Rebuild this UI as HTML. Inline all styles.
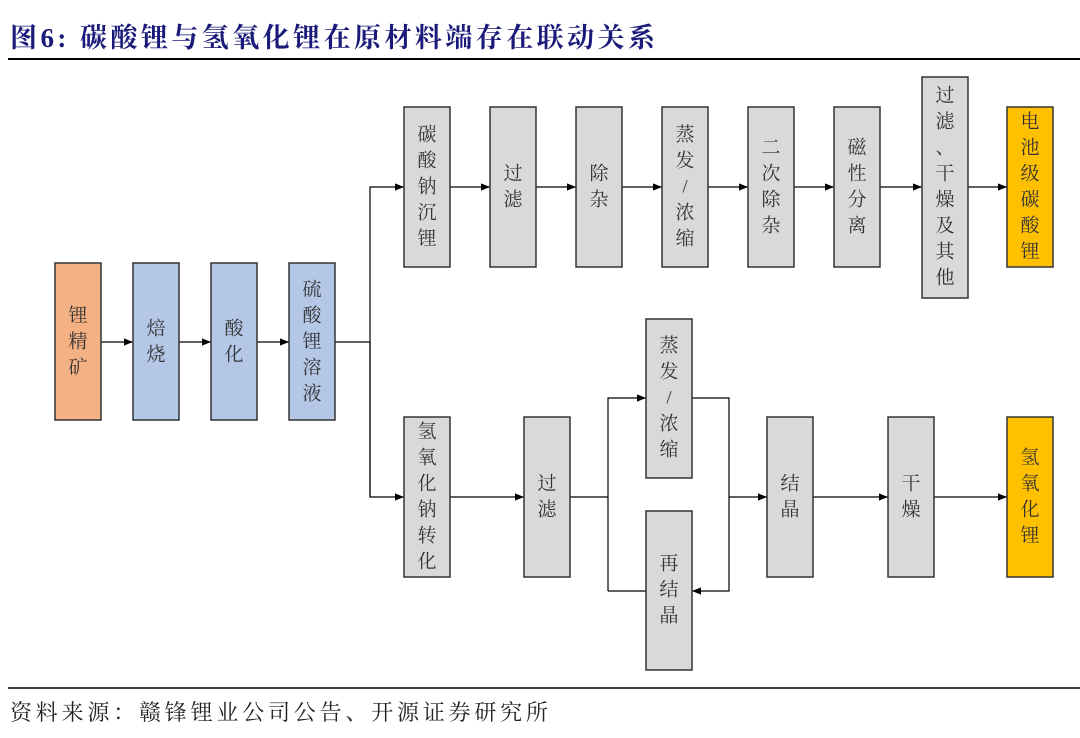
<!DOCTYPE html>
<html><head><meta charset="utf-8"><style>
body{margin:0;background:#fff;width:1080px;height:738px;overflow:hidden}
svg{display:block}
.t{font-family:"Liberation Serif","Noto Serif CJK SC",serif;font-size:19px;fill:#333;text-anchor:middle;dominant-baseline:central}
</style></head><body>
<svg width="1080" height="738" viewBox="0 0 1080 738" xmlns="http://www.w3.org/2000/svg">
<defs><marker id="a" viewBox="0 0 10 10" refX="10" refY="5" markerWidth="9" markerHeight="9" markerUnits="userSpaceOnUse" orient="auto"><path d="M0,1 L10,5 L0,9 z" fill="#000"/></marker></defs>
<text x="10" y="47" textLength="645" lengthAdjust="spacing" font-family="Liberation Serif,'Noto Serif CJK SC',serif" font-size="27" font-weight="bold" fill="#1a1a7a">图6:  碳酸锂与氢氧化锂在原材料端存在联动关系</text>
<line x1="8" y1="59" x2="1080" y2="59" stroke="#000" stroke-width="2"/>
<line x1="8" y1="688" x2="1080" y2="688" stroke="#000" stroke-width="1.5"/>
<text x="10" y="720" textLength="538" lengthAdjust="spacing" font-family="Liberation Serif,'Noto Serif CJK SC',serif" font-size="22" fill="#222">资料来源：赣锋锂业公司公告、开源证券研究所</text>

<g stroke="#000" stroke-width="1.2" fill="none">
<line x1="101" y1="342" x2="133" y2="342" marker-end="url(#a)"/>
<line x1="179" y1="342" x2="211" y2="342" marker-end="url(#a)"/>
<line x1="257" y1="342" x2="289" y2="342" marker-end="url(#a)"/>
<polyline points="335,342 370,342"/>
<polyline points="370,497 370,187 404,187" marker-end="url(#a)"/>
<polyline points="370,342 370,497 404,497" marker-end="url(#a)"/>
<line x1="450" y1="187" x2="490" y2="187" marker-end="url(#a)"/>
<line x1="536" y1="187" x2="576" y2="187" marker-end="url(#a)"/>
<line x1="622" y1="187" x2="662" y2="187" marker-end="url(#a)"/>
<line x1="708" y1="187" x2="748" y2="187" marker-end="url(#a)"/>
<line x1="794" y1="187" x2="834" y2="187" marker-end="url(#a)"/>
<line x1="880" y1="187" x2="922" y2="187" marker-end="url(#a)"/>
<line x1="968" y1="187" x2="1007" y2="187" marker-end="url(#a)"/>
<line x1="450" y1="497" x2="524" y2="497" marker-end="url(#a)"/>
<line x1="570" y1="497" x2="608" y2="497"/>
<polyline points="608,591 608,398 646,398" marker-end="url(#a)"/>
<polyline points="608,591 646,591"/>
<polyline points="692,398 729,398 729,591 692,591" marker-end="url(#a)"/>
<line x1="729" y1="497" x2="767" y2="497" marker-end="url(#a)"/>
<line x1="813" y1="497" x2="888" y2="497" marker-end="url(#a)"/>
<line x1="934" y1="497" x2="1007" y2="497" marker-end="url(#a)"/>
</g>

<g stroke="#333" stroke-width="1.5">
<rect x="55" y="263" width="46" height="157" fill="#F4B183"/>
<rect x="133" y="263" width="46" height="157" fill="#B4C7E7"/>
<rect x="211" y="263" width="46" height="157" fill="#B4C7E7"/>
<rect x="289" y="263" width="46" height="157" fill="#B4C7E7"/>
<rect x="404" y="107" width="46" height="160" fill="#D9D9D9"/>
<rect x="490" y="107" width="46" height="160" fill="#D9D9D9"/>
<rect x="576" y="107" width="46" height="160" fill="#D9D9D9"/>
<rect x="662" y="107" width="46" height="160" fill="#D9D9D9"/>
<rect x="748" y="107" width="46" height="160" fill="#D9D9D9"/>
<rect x="834" y="107" width="46" height="160" fill="#D9D9D9"/>
<rect x="922" y="77" width="46" height="221" fill="#D9D9D9"/>
<rect x="1007" y="107" width="46" height="160" fill="#FFC000"/>
<rect x="404" y="417" width="46" height="160" fill="#D9D9D9"/>
<rect x="524" y="417" width="46" height="160" fill="#D9D9D9"/>
<rect x="646" y="319" width="46" height="159" fill="#D9D9D9"/>
<rect x="646" y="511" width="46" height="159" fill="#D9D9D9"/>
<rect x="767" y="417" width="46" height="160" fill="#D9D9D9"/>
<rect x="888" y="417" width="46" height="160" fill="#D9D9D9"/>
<rect x="1007" y="417" width="46" height="160" fill="#FFC000"/>
</g>

<g class="t">
<text class="t" x="78" y="316">锂</text><text class="t" x="78" y="342">精</text><text class="t" x="78" y="368">矿</text>
<text class="t" x="156" y="329">焙</text><text class="t" x="156" y="355">烧</text>
<text class="t" x="234" y="329">酸</text><text class="t" x="234" y="355">化</text>
<text class="t" x="312" y="290">硫</text><text class="t" x="312" y="316">酸</text><text class="t" x="312" y="342">锂</text><text class="t" x="312" y="368">溶</text><text class="t" x="312" y="394">液</text>

<text class="t" x="427" y="135">碳</text><text class="t" x="427" y="161">酸</text><text class="t" x="427" y="187">钠</text><text class="t" x="427" y="213">沉</text><text class="t" x="427" y="239">锂</text>
<text class="t" x="513" y="174">过</text><text class="t" x="513" y="200">滤</text>
<text class="t" x="599" y="174">除</text><text class="t" x="599" y="200">杂</text>
<text class="t" x="685" y="135">蒸</text><text class="t" x="685" y="161">发</text><text class="t" x="685" y="187">/</text><text class="t" x="685" y="213">浓</text><text class="t" x="685" y="239">缩</text>
<text class="t" x="771" y="148">二</text><text class="t" x="771" y="174">次</text><text class="t" x="771" y="200">除</text><text class="t" x="771" y="226">杂</text>
<text class="t" x="857" y="148">磁</text><text class="t" x="857" y="174">性</text><text class="t" x="857" y="200">分</text><text class="t" x="857" y="226">离</text>
<text class="t" x="945" y="96">过</text><text class="t" x="945" y="122">滤</text><text class="t" x="945" y="148">、</text><text class="t" x="945" y="174">干</text><text class="t" x="945" y="200">燥</text><text class="t" x="945" y="226">及</text><text class="t" x="945" y="252">其</text><text class="t" x="945" y="278">他</text>
<text class="t" x="1030" y="122">电</text><text class="t" x="1030" y="148">池</text><text class="t" x="1030" y="174">级</text><text class="t" x="1030" y="200">碳</text><text class="t" x="1030" y="226">酸</text><text class="t" x="1030" y="252">锂</text>

<text class="t" x="427" y="432">氢</text><text class="t" x="427" y="458">氧</text><text class="t" x="427" y="484">化</text><text class="t" x="427" y="510">钠</text><text class="t" x="427" y="536">转</text><text class="t" x="427" y="562">化</text>
<text class="t" x="547" y="484">过</text><text class="t" x="547" y="510">滤</text>
<text class="t" x="669" y="346">蒸</text><text class="t" x="669" y="372">发</text><text class="t" x="669" y="398">/</text><text class="t" x="669" y="424">浓</text><text class="t" x="669" y="450">缩</text>
<text class="t" x="669" y="564">再</text><text class="t" x="669" y="590">结</text><text class="t" x="669" y="616">晶</text>
<text class="t" x="790" y="484">结</text><text class="t" x="790" y="510">晶</text>
<text class="t" x="911" y="484">干</text><text class="t" x="911" y="510">燥</text>
<text class="t" x="1030" y="458">氢</text><text class="t" x="1030" y="484">氧</text><text class="t" x="1030" y="510">化</text><text class="t" x="1030" y="536">锂</text>
</g>
</svg>
</body></html>
